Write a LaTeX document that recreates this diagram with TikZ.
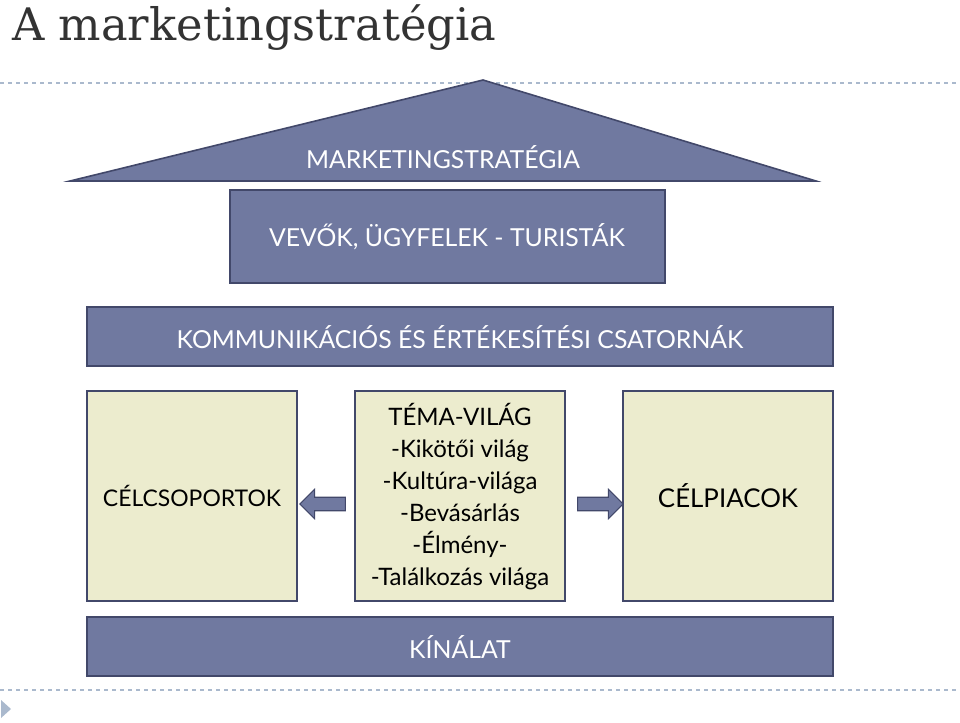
\documentclass[tikz,border=0pt]{standalone}
\usepackage{fontspec}
\setmainfont{Lato}
\newfontfamily\titlefont{DejaVu Serif}
\usetikzlibrary{shapes.arrows}
\definecolor{kekfill}{RGB}{112,121,160}
\definecolor{kekline}{RGB}{66,72,106}
\definecolor{bezsfill}{RGB}{236,236,206}
\definecolor{szaggatott}{RGB}{170,185,205}
\tikzset{
  sotet/.style={draw=kekline, line width=1.2pt, fill=kekfill, text=white},
  vilagos/.style={draw=kekline, line width=1.2pt, fill=bezsfill, text=black},
  nyil/.style={single arrow, draw=kekline, fill=kekfill, line width=0.8pt,
    minimum height=34pt, minimum width=22pt, single arrow head extend=4pt,
    inner sep=3pt}
}
\begin{document}
\begin{tikzpicture}[x=0.75pt, y=-0.75pt]
                \useasboundingbox (0,0) rectangle (960,722);
                % Cím
                \node[anchor=base west, inner sep=0pt, text=black!80] (cim) at (12,40)
                    {\titlefont\fontsize{33.6}{36}\selectfont A marketingstratégia};
                \draw[szaggatott, dashed, line width=0.8pt] (0,83) -- (960,83);

                % Tető
                \draw[sotet] (70,181) -- (483,80) -- (816,181) -- cycle;
                \node[text=white] (strategia) at (443,157) {\fontsize{18.6}{22}\selectfont MARKETINGSTRATÉGIA};

                % Sávok
                \draw[sotet] (230,190) rectangle (665,283);
                \node[text=white] (vevok) at (447,237) {\fontsize{18.6}{22}\selectfont VEVŐK, ÜGYFELEK - TURISTÁK};
                \draw[sotet] (87,307) rectangle (833,366);
                \node[text=white] (csatornak) at (460,337) {\fontsize{18.6}{22}\selectfont KOMMUNIKÁCIÓS ÉS ÉRTÉKESÍTÉSI CSATORNÁK};

                % Középső sor
                \draw[vilagos] (87,391) rectangle (297,601);
                \node (celcsop) at (192,496) {\fontsize{17.2}{20}\selectfont CÉLCSOPORTOK};
                \draw[vilagos] (355,391) rectangle (565,601);
                \node[align=center, font=\fontsize{18}{24}\selectfont] (tema) at (460,497)
                    {TÉMA-VILÁG\\-Kikötői világ\\-Kultúra-világa\\-Bevásárlás\\-Élmény-\\-Találkozás világa};
                \draw[vilagos] (623,391) rectangle (833,601);
                \node (celpiac) at (728,496) {\fontsize{19.4}{22}\selectfont CÉLPIACOK};

                % Nyilak
                \node[nyil, shape border rotate=180] (balnyil) at (326,504) {};
                \node[nyil] (jobbnyil) at (597,504) {};

                % Alap
                \draw[sotet] (87,617) rectangle (833,676);
                \node[text=white] (kinalat) at (460,647) {\fontsize{18.6}{22}\selectfont KÍNÁLAT};

                \draw[szaggatott, dashed, line width=0.8pt] (0,690) -- (960,690);
                \fill[szaggatott] (1,700) -- (11,709) -- (1,718) -- cycle;
            \end{tikzpicture}
\end{document}
